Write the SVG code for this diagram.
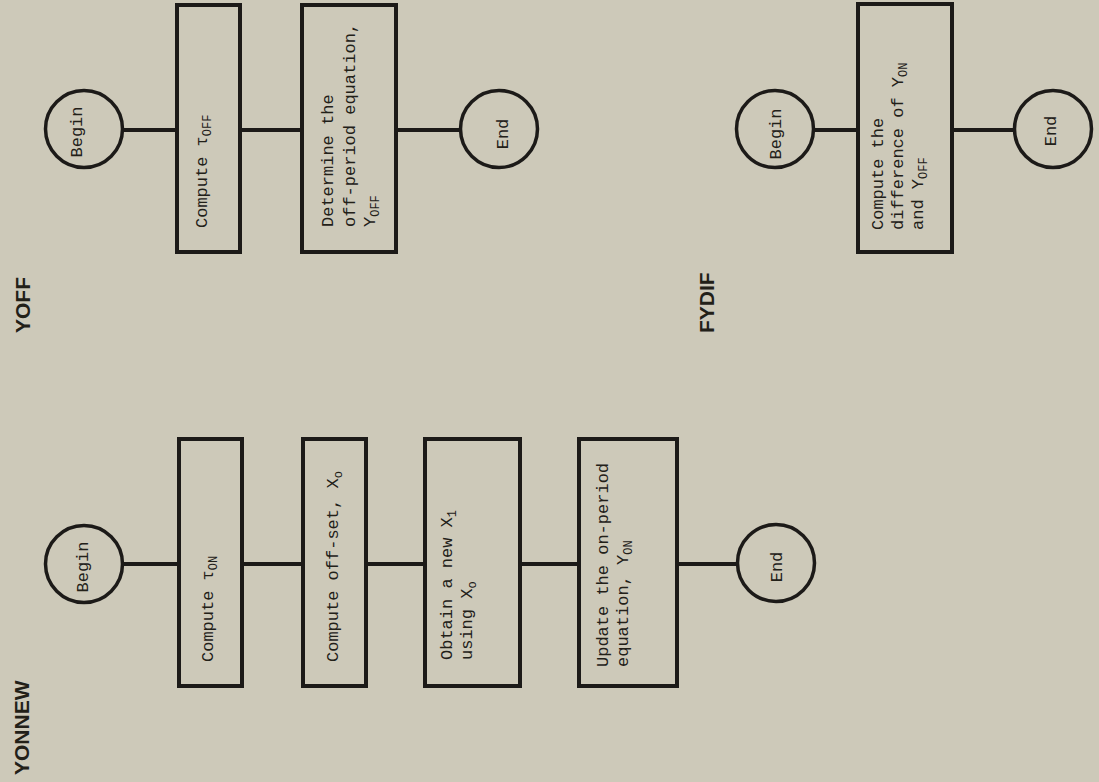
<svg xmlns="http://www.w3.org/2000/svg" width="1099" height="782" viewBox="0 0 1099 782">
<style>
.bg{fill:#cdc9b9}
.box{fill:none;stroke:#1c1a18;stroke-width:4}
.circ{fill:none;stroke:#1c1a18;stroke-width:3.5}
.conn{stroke:#1c1a18;stroke-width:4;fill:none}
.t{font-family:"Liberation Mono",monospace;font-size:17px;fill:#222018}
.c{text-anchor:middle}
.sub{font-size:12px}
.lbl{font-family:"Liberation Sans",Arial,sans-serif;font-weight:bold;font-size:21px;fill:#222018}
</style>
<rect class="bg" x="0" y="0" width="1099" height="782"/>

<g id="connectors">
  <line class="conn" x1="122" y1="130" x2="177" y2="130"/>
  <line class="conn" x1="240" y1="130" x2="302" y2="130"/>
  <line class="conn" x1="396" y1="130" x2="461" y2="130"/>
  <line class="conn" x1="122" y1="564" x2="179" y2="564"/>
  <line class="conn" x1="242" y1="564" x2="303" y2="564"/>
  <line class="conn" x1="366" y1="564" x2="425" y2="564"/>
  <line class="conn" x1="520" y1="564" x2="579" y2="564"/>
  <line class="conn" x1="677" y1="564" x2="738" y2="564"/>
  <line class="conn" x1="813" y1="130" x2="858" y2="130"/>
  <line class="conn" x1="952" y1="130" x2="1015" y2="130"/>
</g>

<!-- YOFF -->
<g id="label-yoff"><text class="lbl" transform="translate(30,333) rotate(-90)">YOFF</text></g>
<g id="yoff-begin">
  <circle class="circ" cx="84" cy="129" r="38.5"/>
  <text class="t c" transform="translate(82,132) rotate(-90)">Begin</text>
</g>
<g id="yoff-tau">
  <rect class="box" x="177" y="5" width="63" height="247"/>
  <text class="t" transform="translate(207,228) rotate(-90)">Compute τ<tspan class="sub" dy="4">OFF</tspan></text>
</g>
<g id="yoff-determine">
  <rect class="box" x="302" y="5" width="94" height="247"/>
  <text class="t" transform="translate(333,227) rotate(-90)">Determine the</text>
  <text class="t" transform="translate(355,227) rotate(-90)">off-period equation,</text>
  <text class="t" transform="translate(375,227) rotate(-90)">Y<tspan class="sub" dy="4">OFF</tspan></text>
</g>
<g id="yoff-end">
  <circle class="circ" cx="499" cy="129" r="38.5"/>
  <text class="t c" transform="translate(508,134) rotate(-90)">End</text>
</g>

<!-- YONNEW -->
<g id="label-yonnew"><text class="lbl" transform="translate(29,775) rotate(-90)">YONNEW</text></g>
<g id="yonnew-begin">
  <circle class="circ" cx="84" cy="564" r="38.5"/>
  <text class="t c" transform="translate(88,567) rotate(-90)">Begin</text>
</g>
<g id="yonnew-tau">
  <rect class="box" x="179" y="439" width="63" height="247"/>
  <text class="t" transform="translate(213,662) rotate(-90)">Compute τ<tspan class="sub" dy="4">ON</tspan></text>
</g>
<g id="yonnew-offset">
  <rect class="box" x="303" y="439" width="63" height="247"/>
  <text class="t" transform="translate(338,662) rotate(-90)">Compute off-set, X<tspan class="sub" dy="4">o</tspan></text>
</g>
<g id="yonnew-obtain">
  <rect class="box" x="425" y="439" width="95" height="247"/>
  <text class="t" transform="translate(452,660) rotate(-90)">Obtain a new X<tspan class="sub" dy="4">1</tspan></text>
  <text class="t" transform="translate(472,660) rotate(-90)">using X<tspan class="sub" dy="4">o</tspan></text>
</g>
<g id="yonnew-update">
  <rect class="box" x="579" y="439" width="98" height="247"/>
  <text class="t" transform="translate(608,667) rotate(-90)">Update the on-period</text>
  <text class="t" transform="translate(628,667) rotate(-90)">equation, Y<tspan class="sub" dy="4">ON</tspan></text>
</g>
<g id="yonnew-end">
  <circle class="circ" cx="776" cy="563" r="38.5"/>
  <text class="t c" transform="translate(782,567) rotate(-90)">End</text>
</g>

<!-- FYDIF -->
<g id="label-fydif"><text class="lbl" transform="translate(714,333) rotate(-90)">FYDIF</text></g>
<g id="fydif-begin">
  <circle class="circ" cx="775" cy="129" r="38.5"/>
  <text class="t c" transform="translate(781,134) rotate(-90)">Begin</text>
</g>
<g id="fydif-diff">
  <rect class="box" x="858" y="4" width="94" height="248"/>
  <text class="t" transform="translate(883,230) rotate(-90)">Compute the</text>
  <text class="t" transform="translate(903,230) rotate(-90)">difference of Y<tspan class="sub" dy="4">ON</tspan></text>
  <text class="t" transform="translate(923,230) rotate(-90)">and Y<tspan class="sub" dy="4">OFF</tspan></text>
</g>
<g id="fydif-end">
  <circle class="circ" cx="1053" cy="129" r="38.5"/>
  <text class="t c" transform="translate(1056,131) rotate(-90)">End</text>
</g>
</svg>
